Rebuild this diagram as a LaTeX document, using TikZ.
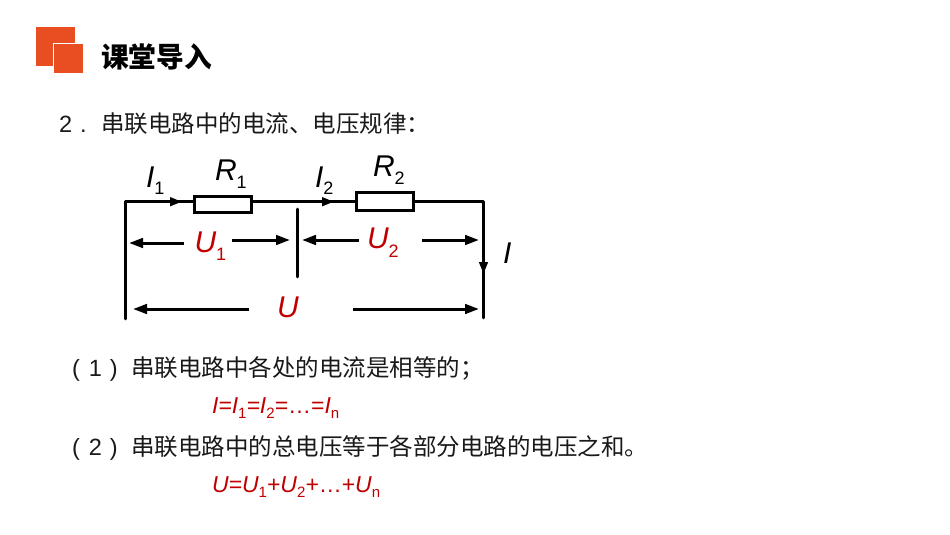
\documentclass[tikz,border=0pt]{standalone}
\usepackage{fontspec}
\setmainfont{Liberation Sans}
\newfontfamily\cjk{Noto Sans CJK SC}
\usetikzlibrary{arrows.meta}
\definecolor{orangeM}{HTML}{E84E22}
\definecolor{redM}{HTML}{C00000}
\newcommand{\fsz}[1]{\fontsize{#1}{#1}\selectfont}
\newcommand{\subs}[3]{\raisebox{#1pt}{\fsz{#2}\upshape #3}}
\tikzset{
  x=1pt,y=-1pt,
  txt/.style={anchor=base west,inner sep=0pt,outer sep=0pt},
  body/.style={txt,font=\fsz{23.5}\cjk,text=black!90},
  num/.style={txt,font=\fsz{23.5},text=black!90},
  cirlab/.style={txt,font=\fsz{30}\itshape,text=black},
  vlab/.style={txt,font=\fsz{30}\itshape,text=redM},
  formula/.style={txt,font=\fsz{23}\itshape,text=redM},
  wire/.style={line width=2.8pt,black,line cap=round},
  res/.style={draw=black,line width=2.8pt,fill=white,inner sep=0pt,outer sep=0pt},
  meas/.style={line width=3pt,black,-{Triangle[length=14pt,width=9.5pt]}},
  flow/.style={-{Triangle[length=12pt,width=8.5pt]},line width=2.8pt,black},
  sq/.style={fill=orangeM,draw=white,line width=0.5pt,inner sep=0pt,outer sep=0pt},
}
\begin{document}
\begin{tikzpicture}
\useasboundingbox (0,0) rectangle (950,535);
% logo
\node[sq,minimum width=40pt,minimum height=40pt] (sqa) at (55.2,46.2) {};
\node[sq,minimum width=30pt,minimum height=30pt] (sqb) at (68.3,58.2) {};
\node[txt,font=\fsz{27.7}\cjk\bfseries] (title) at (101,67) {课堂导入};
\node[num] (numl) at (59,132) {2\hspace{8pt}.};
\node[body] (head) at (101,132) {串联电路中的电流、电压规律：};
% circuit points
\coordinate (lb) at (125.5,319);
\coordinate (lt) at (125.5,201.7);
\coordinate (rt) at (483.5,201.7);
\coordinate (rb) at (483.5,318);
\coordinate (da) at (297.5,209);
\coordinate (db) at (297.5,277);
\draw[wire,line join=round] (lb) -- (lt) -- (rt) -- (rb);
\draw[wire] (da) -- (db);
\node[res,minimum width=56.8pt,minimum height=16.5pt] (r1) at (223.2,204.5) {};
\node[res,minimum width=57.5pt,minimum height=18.5pt] (r2) at (385,201.5) {};
% flow arrows
\coordinate (fa1) at (165,201.7); \coordinate (fa2) at (182,201.7);
\coordinate (fb1) at (316,201.7); \coordinate (fb2) at (334,201.7);
\coordinate (fc1) at (483.5,255); \coordinate (fc2) at (483.5,274);
\draw[flow] (fa1) -- (fa2);
\draw[flow] (fb1) -- (fb2);
\draw[flow] (fc1) -- (fc2);
% measure arrows
\coordinate (a1) at (184,243); \coordinate (a2) at (129,243);
\coordinate (b1) at (232,240); \coordinate (b2) at (290,240);
\coordinate (c1) at (359,240); \coordinate (c2) at (302,240);
\coordinate (d1) at (422,240); \coordinate (d2) at (479,240);
\coordinate (e1) at (249,309); \coordinate (e2) at (133,309);
\coordinate (f1) at (353,309); \coordinate (f2) at (479,309);
\draw[meas] (a1) -- (a2);
\draw[meas] (b1) -- (b2);
\draw[meas] (c1) -- (c2);
\draw[meas] (d1) -- (d2);
\draw[meas] (e1) -- (e2);
\draw[meas] (f1) -- (f2);
% labels
\node[cirlab] (li1) at (146,187) {I\subs{-7}{18}{1}};
\node[cirlab] (lr1) at (215,180) {R\subs{-8}{18}{1}};
\node[cirlab] (li2) at (315,187) {I\subs{-7}{18}{2}};
\node[cirlab] (lr2) at (373,176) {R\subs{-8}{18}{2}};
\node[cirlab] (li) at (503,263) {I};
\node[vlab] (lu1) at (194.5,252) {U\subs{-8}{18}{1}};
\node[vlab] (lu2) at (367,248) {U\subs{-9}{18}{2}};
\node[vlab] (lu) at (277,317) {U};
% text lines
\node[num] (p1n) at (72,376) {(\hspace{9pt}1\hspace{8pt})};
\node[body] (p1) at (131,376) {串联电路中各处的电流是相等的；};
\node[formula] (f1t) at (212,413) {I=I\subs{-5}{15}{1}=I\subs{-5}{15}{2}=\upshape…=\itshape I\subs{-5}{15}{n}};
\node[num] (p2n) at (72,455) {(\hspace{9pt}2\hspace{8pt})};
\node[body] (p2) at (131,455) {串联电路中的总电压等于各部分电路的电压之和。};
\node[formula] (f2t) at (212,492) {U=U\subs{-5}{15}{1}+U\subs{-5}{15}{2}+\upshape…+\itshape U\subs{-5}{15}{n}};
\end{tikzpicture}
\end{document}
